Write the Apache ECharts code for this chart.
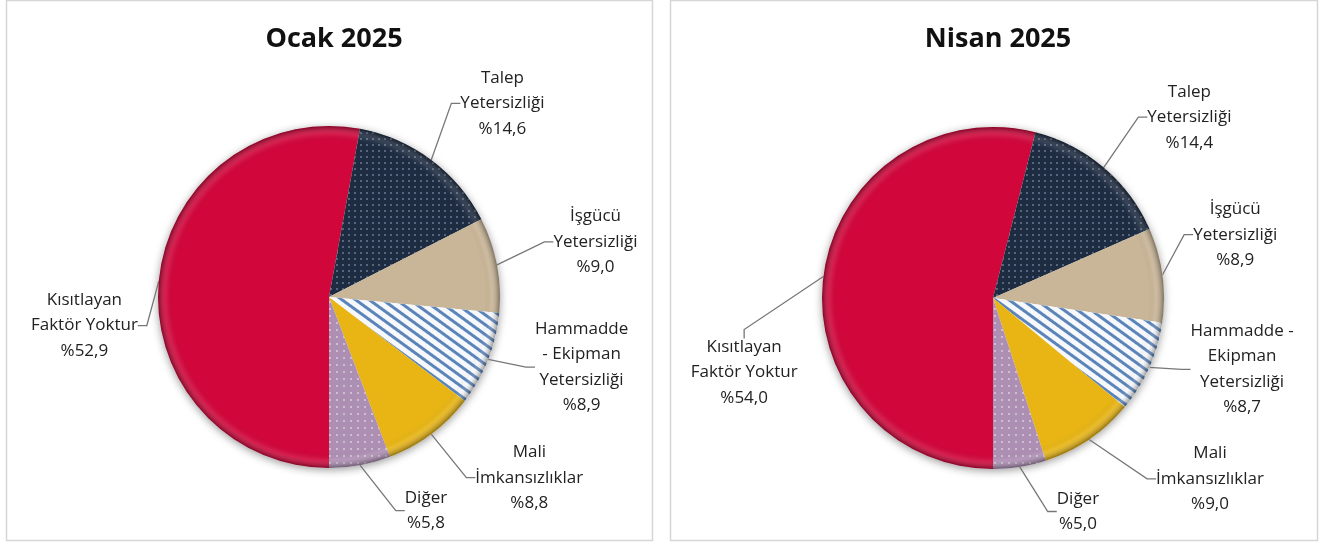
<!DOCTYPE html>
<html>
<head>
<meta charset="utf-8">
<script src="https://cdn.jsdelivr.net/npm/echarts@6/dist/echarts.min.js"></script>
<style>
  html, body { margin: 0; background: #fff; }
  #main { width: 1323px; height: 544px; }
</style>
</head>
<body>
<div id="main"></div>
<script>
// dilimler 6 yönünden başlayıp saat yönünde
const categories = ['Kısıtlayan Faktör Yoktur', 'Talep Yetersizliği', 'İşgücü Yetersizliği', 'Hammadde - Ekipman Yetersizliği', 'Mali İmkansızlıklar', 'Diğer']
const ocakValues = [52.9, 14.6, 9.0, 8.9, 8.8, 5.8]
const nisanValues = [54.0, 14.4, 8.9, 8.7, 9.0, 5.0]
const ocakLabels = ['Kısıtlayan\nFaktör Yoktur', 'Talep\nYetersizliği', 'İşgücü\nYetersizliği', 'Hammadde\n- Ekipman\nYetersizliği', 'Mali\nİmkansızlıklar', 'Diğer']
const nisanLabels = ['Kısıtlayan\nFaktör Yoktur', 'Talep\nYetersizliği', 'İşgücü\nYetersizliği', 'Hammadde -\nEkipman\nYetersizliği', 'Mali\nİmkansızlıklar', 'Diğer']
const titles = ['Ocak 2025', 'Nisan 2025']

// etiketlerin otomatik yerinden kayması [dx, dy]
const ocakShift = [[23, 47], [-2, -31], [13, -17], [5, -4], [13, 18], [27, 14]]
const nisanShift = [[18, 100], [11, -26], [-13, -36], [0, -11], [37, 13], [20, 13]]

const font = '"Open Sans", "Noto Sans", sans-serif'
const R = 171

const sliceStyles = [
  { color: '#d1063b' },
  { color: '#1e2c42', decal: { symbol: 'circle', symbolSize: 1, dashArrayX: [2, 4], dashArrayY: [2, 4], color: 'rgba(185,200,222,0.5)' } },
  { color: '#c9b597' },
  { color: '#f6f8fc', decal: { symbol: 'rect', symbolSize: 1, dashArrayX: [1, 0], dashArrayY: [3, 5], rotation: Math.PI / 5, color: '#5b84b9' } },
  { color: '#e8b515' },
  { color: '#ae8fb4', decal: { symbol: 'circle', symbolSize: 1, dashArrayX: [2, 5], dashArrayY: [2, 5], color: 'rgba(255,255,255,0.55)' } }
]

function pct (v) {
  return '%' + v.toFixed(1).replace('.', ',')
}

function dataPie (center, values, labels, shift) {
  return {
    type: 'pie',
    z: 2,
    center: center,
    radius: R,
    startAngle: 270,
    clockwise: true,
    avoidLabelOverlap: false,
    label: {
      show: true,
      position: 'outside',
      distanceToLabelLine: 3,
      formatter: function (p) {
        const lines = labels[p.dataIndex].split('\n').concat([pct(values[p.dataIndex])])
        return lines.map(function (l) { return '{c|' + l + '}' }).join('\n')
      },
      rich: {
        c: { align: 'center', fontFamily: font, fontSize: 17, color: '#222', lineHeight: 25.5 }
      }
    },
    labelLine: {
      show: true,
      length: 32,
      length2: 9,
      lineStyle: { color: '#777', width: 1.3 }
    },
    labelLayout: function (p) {
      const s = shift[p.dataIndex]
      return {
        x: p.labelRect.x + p.labelRect.width / 2 + s[0],
        y: p.labelRect.y + p.labelRect.height / 2 + s[1],
        align: 'center',
        verticalAlign: 'middle'
      }
    },
    emphasis: { disabled: true },
    data: values.map(function (v, i) {
      return { name: categories[i], value: v, itemStyle: sliceStyles[i] }
    })
  }
}

// gölge ve kenar efekti için alt/üst katmanlar
function basePie (center) {
  return {
    type: 'pie', z: 1, silent: true, center: center, radius: R,
    label: { show: false }, labelLine: { show: false },
    itemStyle: { color: '#fff', shadowBlur: 9, shadowColor: 'rgba(0,0,0,0.4)', shadowOffsetY: 2 },
    data: [{ value: 1 }]
  }
}
function rimPie (center) {
  return {
    type: 'pie', z: 3, silent: true, center: center, radius: R,
    label: { show: false }, labelLine: { show: false },
    itemStyle: {
      color: {
        type: 'radial', x: 0.5, y: 0.5, r: 0.5,
        colorStops: [
          { offset: 0, color: 'rgba(0,0,0,0)' },
          { offset: 0.91, color: 'rgba(0,0,0,0)' },
          { offset: 0.95, color: 'rgba(255,255,255,0.08)' },
          { offset: 1, color: 'rgba(0,0,0,0.38)' }
        ]
      }
    },
    data: [{ value: 1 }]
  }
}

const chart = echarts.init(document.getElementById('main'))
const centers = [[329, 297], [993, 298]]

chart.setOption({
  animation: false,
  title: titles.map(function (t, i) {
    return {
      text: t,
      left: centers[i][0],
      top: 21,
      textAlign: 'center',
      textStyle: { fontFamily: font, fontWeight: 'bold', fontSize: 27, color: '#111' }
    }
  }),
  graphic: [
    { type: 'rect', shape: { x: 6.5, y: 0.5, width: 646, height: 540 }, style: { fill: 'none', stroke: '#d6d6d6', lineWidth: 1.5 } },
    { type: 'rect', shape: { x: 670.5, y: 0.5, width: 647, height: 540 }, style: { fill: 'none', stroke: '#d6d6d6', lineWidth: 1.5 } }
  ],
  series: [
    basePie(centers[0]),
    dataPie(centers[0], ocakValues, ocakLabels, ocakShift),
    rimPie(centers[0]),
    basePie(centers[1]),
    dataPie(centers[1], nisanValues, nisanLabels, nisanShift),
    rimPie(centers[1])
  ]
})
</script>
</body>
</html>
